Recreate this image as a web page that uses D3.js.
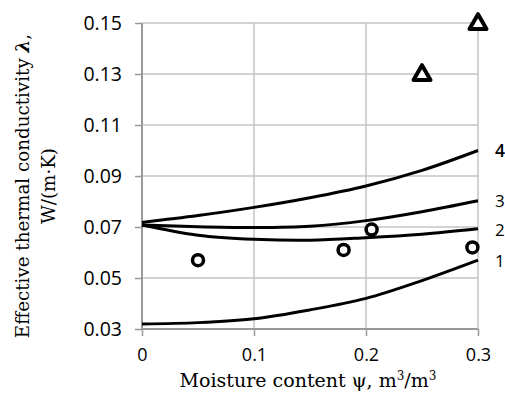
<!DOCTYPE html>
<html>
<head>
<meta charset="utf-8">
<script src="https://cdn.jsdelivr.net/npm/d3@7"></script>
<style>
  body { margin: 0; background: #fff; }
  .tick text { font-family: "Open Sans", sans-serif; fill: #000; }
  .ttl { font-family: "DejaVu Serif", serif; fill: #000; }
</style>
</head>
<body>
<div id="chart"></div>
<script>

    // Data
    var psi = [0, 0.05, 0.1, 0.15, 0.2, 0.25, 0.3];
    var curve1 = [0.032, 0.0325, 0.034, 0.0375, 0.042, 0.049, 0.057];
    var curve2 = [0.0708, 0.0668, 0.0652, 0.0648, 0.0658, 0.0672, 0.0693];
    var curve3 = [0.0708, 0.0701, 0.0698, 0.0703, 0.0725, 0.0760, 0.0803];
    var curve4 = [0.0718, 0.0745, 0.0777, 0.0815, 0.0861, 0.0922, 0.100];
    var curveNames = ["1", "2", "3", "4"];

    var circleX = [0.05, 0.18, 0.205, 0.295];
    var circleY = [0.057, 0.061, 0.069, 0.062];
    var triangleX = [0.25, 0.3];
    var triangleY = [0.13, 0.15];

    var xTicks = [0, 0.1, 0.2, 0.3];
    var yTicks = [0.03, 0.05, 0.07, 0.09, 0.11, 0.13, 0.15];

    var margin = {top: 23, right: 27, bottom: 76, left: 142},
        width = 505 - margin.left - margin.right,
        height = 405 - margin.top - margin.bottom;

    var svg = d3.select("#chart").append("svg")
        .attr("width", 505)
        .attr("height", 405);

    var g = svg.append("g")
        .attr("transform", "translate(" + margin.left + "," + margin.top + ")");

    var x = d3.scaleLinear().domain([0, 0.3]).range([0, width]);
    var y = d3.scaleLinear().domain([0.03, 0.15]).range([height, 0]);

    // grid
    g.append("g").selectAll("line")
        .data(yTicks.slice(1))
        .enter().append("line")
        .attr("x1", 0).attr("x2", width)
        .attr("y1", function(d) { return y(d); })
        .attr("y2", function(d) { return y(d); })
        .attr("stroke", "#c4c4c4").attr("stroke-width", 1.5);

    g.append("g").selectAll("line")
        .data(xTicks.slice(1))
        .enter().append("line")
        .attr("y1", 0).attr("y2", height)
        .attr("x1", function(d) { return x(d); })
        .attr("x2", function(d) { return x(d); })
        .attr("stroke", "#c4c4c4").attr("stroke-width", 1.5);

    // axes
    var xAxis = g.append("g")
        .attr("transform", "translate(0," + height + ")")
        .call(d3.axisBottom(x).tickValues(xTicks).tickSize(7).tickPadding(12)
              .tickFormat(function(d) { return d === 0 ? "0" : d3.format(".1f")(d); }));
    xAxis.selectAll("text").style("font-size", "18px");

    var yAxis = g.append("g")
        .call(d3.axisLeft(y).tickValues(yTicks).tickSize(7).tickPadding(13)
              .tickFormat(d3.format(".2f")));
    yAxis.selectAll("text").style("font-size", "19.5px");

    [xAxis, yAxis].forEach(function(a) {
        a.select(".domain").attr("stroke", "#999").attr("stroke-width", 2);
        a.selectAll(".tick line").attr("stroke", "#999").attr("stroke-width", 1.5);
    });
    yAxis.select(".domain").attr("d", "M0," + height + "V0");
    xAxis.select(".domain").attr("d", "M0,0H" + width);

    // curves
    var curves = [curve1, curve2, curve3, curve4];
    var line = d3.line()
        .x(function(d, i) { return x(psi[i]); })
        .y(function(d) { return y(d); })
        .curve(d3.curveCatmullRom.alpha(0.5));

    g.append("g").selectAll("path")
        .data(curves)
        .enter().append("path")
        .attr("d", line)
        .attr("fill", "none")
        .attr("stroke", "#000")
        .attr("stroke-width", 3);

    var labelY = [0.0565, 0.0687, 0.0800, 0.1000];
    g.append("g").selectAll("text")
        .data(curveNames)
        .enter().append("text")
        .attr("x", width + 17)
        .attr("y", function(d, i) { return y(labelY[i]); })
        .attr("dy", "0.35em")
        .style("font-family", "Open Sans, sans-serif")
        .style("font-size", function(d) { return d === "4" ? "17.5px" : "17px"; })
        .style("font-weight", function(d) { return d === "4" ? "600" : "400"; })
        .text(function(d) { return d; });

    // measured points
    g.append("g").selectAll("circle")
        .data(circleX)
        .enter().append("circle")
        .attr("cx", function(d) { return x(d); })
        .attr("cy", function(d, i) { return y(circleY[i]); })
        .attr("r", 5.5)
        .attr("fill", "#fff")
        .attr("stroke", "#000")
        .attr("stroke-width", 3.5);

    var tri = d3.symbol().type(d3.symbolTriangle).size(125);
    g.append("g").selectAll("path")
        .data(triangleX)
        .enter().append("path")
        .attr("d", tri)
        .attr("transform", function(d, i) { return "translate(" + x(d) + "," + (y(triangleY[i]) + 1) + ")"; })
        .attr("fill", "#fff")
        .attr("stroke", "#000")
        .attr("stroke-width", 4)
        .attr("stroke-linejoin", "round");

    // titles
    svg.append("text")
        .attr("class", "ttl")
        .attr("x", 308).attr("y", 387)
        .attr("text-anchor", "middle")
        .style("font-size", "19px")
        .html("Moisture content ψ, m<tspan dy='-7' font-size='12px'>3</tspan><tspan dy='7'>/m</tspan><tspan dy='-7' font-size='12px'>3</tspan>");

    var yt = svg.append("text")
        .attr("class", "ttl")
        .attr("transform", "translate(29,186) rotate(-90)")
        .attr("text-anchor", "middle")
        .style("font-size", "18.3px");
    yt.append("tspan").attr("x", 0).attr("dy", 0)
        .html("Effective thermal conductivity <tspan font-weight='bold' font-style='italic'>λ</tspan>,");
    yt.append("tspan").attr("x", 0).attr("dy", 26).text("W/(m·K)");

</script>
</body>
</html>
